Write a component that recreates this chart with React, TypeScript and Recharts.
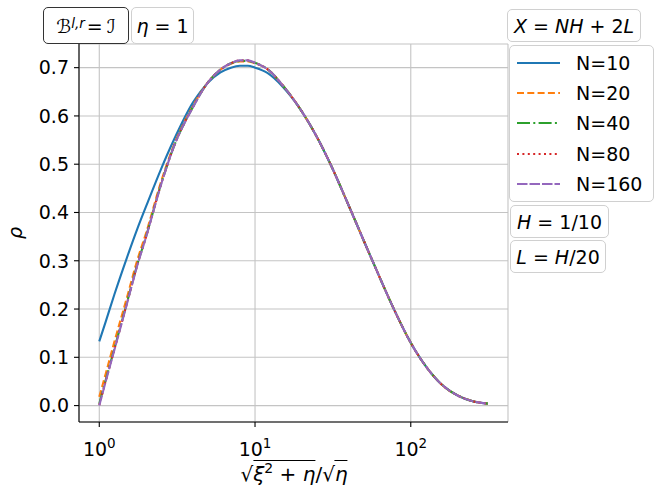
import { LineChart, Line, XAxis, YAxis, CartesianGrid } from 'recharts';

const xs = [1, 1.1, 1.25, 1.5, 1.75, 2, 2.5, 3, 4, 5, 6, 7, 8, 9, 10, 12, 15, 20, 25, 30, 40, 50, 60, 80, 100, 130, 160, 200, 250, 313];

const n10 = [0.133, 0.174, 0.23, 0.305, 0.365, 0.413, 0.491, 0.549, 0.628, 0.669, 0.69, 0.7, 0.704, 0.704, 0.7, 0.689, 0.661, 0.609, 0.556, 0.505, 0.414, 0.341, 0.282, 0.192, 0.13, 0.074, 0.042, 0.021, 0.009, 0.004];
const n20 = [0.018, 0.066, 0.132, 0.222, 0.3, 0.358, 0.465, 0.538, 0.621, 0.67, 0.696, 0.708, 0.713, 0.713, 0.709, 0.697, 0.664, 0.609, 0.556, 0.505, 0.414, 0.341, 0.282, 0.192, 0.13, 0.074, 0.042, 0.021, 0.009, 0.004];
const n40 = [0.004, 0.053, 0.118, 0.211, 0.291, 0.351, 0.46, 0.535, 0.619, 0.67, 0.696, 0.709, 0.714, 0.714, 0.71, 0.697, 0.664, 0.609, 0.556, 0.505, 0.414, 0.341, 0.282, 0.192, 0.13, 0.074, 0.042, 0.021, 0.009, 0.004];
const n80 = [0.001, 0.051, 0.116, 0.21, 0.29, 0.35, 0.46, 0.535, 0.619, 0.67, 0.696, 0.709, 0.715, 0.715, 0.71, 0.697, 0.664, 0.609, 0.556, 0.505, 0.414, 0.341, 0.282, 0.192, 0.13, 0.074, 0.042, 0.021, 0.009, 0.004];
const n160 = [0.0, 0.05, 0.115, 0.209, 0.289, 0.35, 0.459, 0.535, 0.618, 0.67, 0.696, 0.709, 0.715, 0.715, 0.71, 0.697, 0.664, 0.609, 0.556, 0.505, 0.414, 0.341, 0.282, 0.192, 0.13, 0.074, 0.042, 0.021, 0.009, 0.004];

const yTicks = [0, 0.1, 0.2, 0.3, 0.4, 0.5, 0.6, 0.7];
const xMajor = [1, 10, 100];
const xMinor = [0.8, 0.9, 2, 3, 4, 5, 6, 7, 8, 9, 20, 30, 40, 50, 60, 70, 80, 90, 200, 300, 400];
const xDomain = [0.741, 421];
const yDomain = [-0.034, 0.749];

const series = [
  { key: 'N10', name: 'N=10', values: n10, color: '#1f77b4', dash: undefined },
  { key: 'N20', name: 'N=20', values: n20, color: '#ff7f0e', dash: '7,3.3' },
  { key: 'N40', name: 'N=40', values: n40, color: '#2ca02c', dash: '13,3.3,2,3.3' },
  { key: 'N80', name: 'N=80', values: n80, color: '#d62728', dash: '2,3.4' },
  { key: 'N160', name: 'N=160', values: n160, color: '#9467bd', dash: '10.5,2' },
];

const data = xs.map((x, i) => {
  const row: Record<string, number> = { x };
  series.forEach((s) => (row[s.key] = s.values[i]));
  return row;
});

const FONT = '"DejaVu Sans", sans-serif';
const FS = 19;

const PowTick = (props: any) => {
  const { x, y, payload } = props;
  const exp = Math.round(Math.log10(payload.value));
  return (
    <text x={x} y={y + 27} textAnchor="middle" fontFamily={FONT} fontSize={FS} fill="#000">
      10
      <tspan dy={-8} fontSize={13.5}>{exp}</tspan>
    </text>
  );
};

const box: React.CSSProperties = {
  position: 'absolute',
  boxSizing: 'border-box',
  border: '1.5px solid #d0d0d0',
  borderRadius: 5,
  background: '#fff',
  fontFamily: FONT,
  fontSize: FS,
  color: '#000',
  display: 'flex',
  alignItems: 'center',
  justifyContent: 'center',
  whiteSpace: 'nowrap',
};

const it: React.CSSProperties = { fontStyle: 'italic' };
const over: React.CSSProperties = { borderTop: '1.5px solid #000', paddingTop: 1 };

export default function App() {
  return (
    <div style={{ position: 'absolute', left: 0, top: 0, width: 670, height: 498, background: '#fff' }}>
      <LineChart width={670} height={498} data={data} margin={{ top: 44, right: 162, bottom: 0, left: 0 }}>
        <CartesianGrid stroke="#c4c4c4" strokeWidth={1.1} />
        <XAxis
          xAxisId="minor"
          dataKey="x"
          type="number"
          scale="log"
          domain={xDomain}
          allowDataOverflow
          ticks={xMinor}
          height={0}
          axisLine={false}
          tickSize={3}
          tickLine={{ stroke: '#000', strokeWidth: 1 }}
          tick={() => null}
        />
        <XAxis
          dataKey="x"
          type="number"
          scale="log"
          domain={xDomain}
          allowDataOverflow
          ticks={xMajor}
          height={76}
          tickSize={5}
          axisLine={{ stroke: '#000', strokeWidth: 1.1 }}
          tickLine={{ stroke: '#000', strokeWidth: 1.1 }}
          tick={<PowTick />}
        />
        <XAxis
          xAxisId="top"
          orientation="top"
          dataKey="x"
          type="number"
          scale="log"
          domain={xDomain}
          allowDataOverflow
          height={0}
          tick={false}
          tickLine={false}
          axisLine={{ stroke: '#000', strokeWidth: 1.1 }}
        />
        <YAxis
          type="number"
          domain={yDomain}
          allowDataOverflow
          ticks={yTicks}
          width={79}
          tickSize={5}
          tickMargin={5}
          tickFormatter={(v: number) => v.toFixed(1)}
          axisLine={{ stroke: '#000', strokeWidth: 1.1 }}
          tickLine={{ stroke: '#000', strokeWidth: 1.1 }}
          tick={{ fill: '#000', fontFamily: FONT, fontSize: FS }}
        />
        <YAxis
          yAxisId="right"
          orientation="right"
          type="number"
          domain={yDomain}
          allowDataOverflow
          width={0}
          tick={false}
          tickLine={false}
          axisLine={{ stroke: '#000', strokeWidth: 1.1 }}
        />
        {series.map((s) => (
          <Line
            key={s.key}
            dataKey={s.key}
            name={s.name}
            type="monotone"
            stroke={s.color}
            strokeWidth={2.1}
            strokeDasharray={s.dash}
            dot={false}
            isAnimationActive={false}
          />
        ))}
      </LineChart>

      {/* y label */}
      <div
        style={{
          position: 'absolute',
          left: 15,
          top: 233,
          transform: 'translate(-50%, -50%) rotate(-90deg)',
          fontFamily: FONT,
          fontSize: FS,
          ...it,
        }}
      >
        ρ
      </div>

      {/* x label */}
      <div
        style={{
          position: 'absolute',
          left: 294,
          top: 456,
          transform: 'translateX(-50%)',
          fontFamily: FONT,
          fontSize: 20,
          whiteSpace: 'nowrap',
          lineHeight: '25px',
        }}
      >
        √<span style={over}><span style={it}>ξ</span><sup style={{ fontSize: 14 }}>2</sup> + <span style={it}>η</span></span>/√<span style={over}><span style={it}>η</span></span>
      </div>

      {/* annotation boxes */}
      <div style={{ ...box, left: 43, top: 7, width: 86, height: 37, border: '1.5px solid #333' }}>
        <span style={it}>ℬ</span>
        <sup style={{ fontSize: 13.5, ...it, marginRight: 2, position: 'relative', top: -3 }}>l,r</sup>= <span style={{ ...it, marginLeft: 4 }}>ℐ</span>
      </div>
      <div style={{ ...box, left: 131, top: 7, width: 63, height: 37 }}>
        <span style={it}>η</span>&nbsp;= 1
      </div>
      <div style={{ ...box, left: 507, top: 9, width: 134, height: 33 }}>
        <span style={it}>X</span>&nbsp;=&nbsp;<span style={it}>NH</span>&nbsp;+ 2<span style={it}>L</span>
      </div>
      <div style={{ ...box, left: 510, top: 205, width: 99, height: 33 }}>
        <span style={it}>H</span>&nbsp;= 1/10
      </div>
      <div style={{ ...box, left: 510, top: 240, width: 96, height: 33 }}>
        <span style={it}>L</span>&nbsp;=&nbsp;<span style={it}>H</span>/20
      </div>

      {/* legend */}
      <div
        style={{
          ...box,
          left: 509,
          top: 45,
          width: 145,
          height: 157,
          flexDirection: 'column',
          alignItems: 'flex-start',
          justifyContent: 'flex-start',
          paddingTop: 2,
        }}
      >
        {series.map((s) => (
          <div key={s.key} style={{ display: 'flex', alignItems: 'center', height: 30.2 }}>
            <svg width={60} height={10} style={{ marginLeft: 6 }}>
              <line x1={1} y1={5} x2={44} y2={5} stroke={s.color} strokeWidth={2.1} strokeDasharray={s.dash} />
            </svg>
            <span>{s.name}</span>
          </div>
        ))}
      </div>
    </div>
  );
}
